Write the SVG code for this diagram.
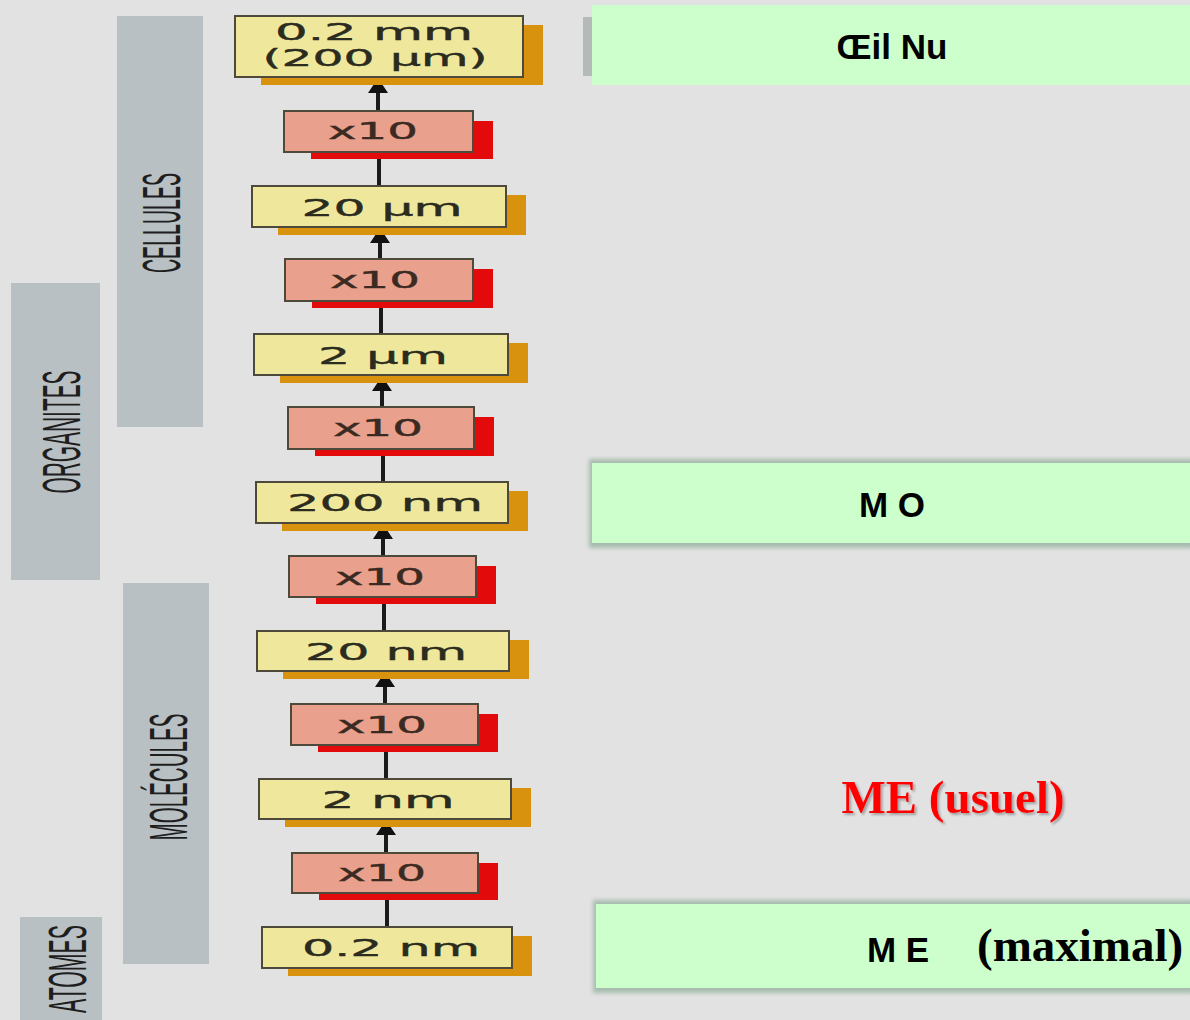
<svg xmlns="http://www.w3.org/2000/svg" width="1190" height="1020" viewBox="0 0 1190 1020">
<style>
.band{fill:#b9c0c3}
.bandtxt{font-family:"Liberation Sans",Arial,sans-serif;font-size:54px;fill:#1e1e1e;text-anchor:middle}
.ybox{fill:#efe89c;stroke:#4d4a3c;stroke-width:2}
.ysh{fill:#d8920e}
.rbox{fill:#e9a08c;stroke:#4d4a3c;stroke-width:2}
.rsh{fill:#e20a0a}
.num{font-family:"DejaVu Sans","Liberation Sans",sans-serif;font-size:23px;fill:#2b2b1e;stroke:#2b2b1e;stroke-width:0.4;text-anchor:middle}
.mul{font-family:"DejaVu Sans","Liberation Sans",sans-serif;font-size:23px;fill:#3a2a22;stroke:#3a2a22;stroke-width:0.4;text-anchor:middle}
.conn{stroke:#1a1a1a;stroke-width:4;fill:none}
.green{fill:#ccffcc}
.gsh{fill:#a6bcae}
.lab{font-family:"Liberation Sans",Arial,sans-serif;font-weight:bold;font-size:35px;fill:#000;text-anchor:middle}
.serif{font-family:"Liberation Serif","Times New Roman",serif;font-weight:bold;font-size:47px}
</style>
<defs>
<marker id="ah" markerUnits="userSpaceOnUse" viewBox="0 0 15 20" markerWidth="15" markerHeight="20" refX="14" refY="10" orient="auto" overflow="visible">
<path d="M0,0 L15,10 L0,20 z" fill="#111"/>
</marker>
<filter id="blur" x="-5%" y="-20%" width="110%" height="140%"><feGaussianBlur stdDeviation="2"/></filter>
<filter id="ts" x="-5%" y="-20%" width="110%" height="140%"><feDropShadow dx="2" dy="2" stdDeviation="1.2" flood-color="#777" flood-opacity="0.6"/></filter>
</defs>
<rect x="0" y="0" width="1190" height="1020" fill="#e2e2e2"/>

<g id="band-cellules"><rect class="band" x="117" y="16" width="86" height="411"/><text class="bandtxt" x="180" y="223" transform="rotate(-90 180 223)" textLength="100" lengthAdjust="spacingAndGlyphs">CELLULES</text></g>
<g id="band-organites"><rect class="band" x="11" y="283" width="89" height="297"/><text class="bandtxt" x="80" y="432" transform="rotate(-90 80 432)" textLength="123" lengthAdjust="spacingAndGlyphs">ORGANITES</text></g>
<g id="band-molecules"><rect class="band" x="123" y="583" width="86" height="381"/><text class="bandtxt" x="187" y="777" transform="rotate(-90 187 777)" textLength="127" lengthAdjust="spacingAndGlyphs">MOLÉCULES</text></g>
<g id="band-atomes"><rect class="band" x="20" y="917" width="82" height="103"/><text class="bandtxt" x="86" y="969" transform="rotate(-90 86 969)" textLength="88" lengthAdjust="spacingAndGlyphs">ATOMES</text></g>

<g id="connectors">
<line class="conn" x1="378" y1="111" x2="378" y2="79" marker-end="url(#ah)"/>
<line class="conn" x1="379" y1="186" x2="379" y2="152"/>
<line class="conn" x1="380" y1="259" x2="380" y2="229" marker-end="url(#ah)"/>
<line class="conn" x1="381" y1="334" x2="381" y2="301"/>
<line class="conn" x1="382" y1="407" x2="382" y2="377" marker-end="url(#ah)"/>
<line class="conn" x1="383" y1="482" x2="383" y2="449"/>
<line class="conn" x1="383" y1="556" x2="383" y2="525" marker-end="url(#ah)"/>
<line class="conn" x1="384" y1="631" x2="384" y2="597"/>
<line class="conn" x1="385" y1="704" x2="385" y2="673" marker-end="url(#ah)"/>
<line class="conn" x1="386" y1="779" x2="386" y2="745"/>
<line class="conn" x1="386" y1="853" x2="386" y2="821" marker-end="url(#ah)"/>
<line class="conn" x1="387" y1="927" x2="387" y2="893"/>
</g>

<g id="y1"><rect class="ysh" x="261" y="25" width="282" height="60"/><rect class="ybox" x="235" y="16" width="288" height="61"/><text class="num" x="374" y="40" textLength="198" lengthAdjust="spacingAndGlyphs">0.2 mm</text><text class="num" x="375" y="66" textLength="225" lengthAdjust="spacingAndGlyphs">(200 µm)</text></g>
<g id="r1"><rect class="rsh" x="311" y="121" width="182" height="38"/><rect class="rbox" x="284" y="111" width="189" height="41"/><text class="mul" x="373" y="139" textLength="90" lengthAdjust="spacingAndGlyphs">x10</text></g>
<g id="y2"><rect class="ysh" x="278" y="195" width="248" height="40"/><rect class="ybox" x="252" y="186" width="254" height="41"/><text class="num" x="382" y="216" textLength="161" lengthAdjust="spacingAndGlyphs">20 µm</text></g>
<g id="r2"><rect class="rsh" x="312" y="269" width="181" height="39"/><rect class="rbox" x="285" y="259" width="188" height="42"/><text class="mul" x="375" y="288" textLength="90" lengthAdjust="spacingAndGlyphs">x10</text></g>
<g id="y3"><rect class="ysh" x="280" y="343" width="248" height="40"/><rect class="ybox" x="254" y="334" width="254" height="41"/><text class="num" x="383" y="364" textLength="130" lengthAdjust="spacingAndGlyphs">2 µm</text></g>
<g id="r3"><rect class="rsh" x="315" y="417" width="179" height="39"/><rect class="rbox" x="288" y="407" width="186" height="42"/><text class="mul" x="378" y="436" textLength="90" lengthAdjust="spacingAndGlyphs">x10</text></g>
<g id="y4"><rect class="ysh" x="282" y="491" width="246" height="40"/><rect class="ybox" x="256" y="482" width="252" height="41"/><text class="num" x="385" y="511" textLength="196" lengthAdjust="spacingAndGlyphs">200 nm</text></g>
<g id="r4"><rect class="rsh" x="316" y="566" width="180" height="38"/><rect class="rbox" x="289" y="556" width="187" height="41"/><text class="mul" x="380" y="585" textLength="90" lengthAdjust="spacingAndGlyphs">x10</text></g>
<g id="y5"><rect class="ysh" x="283" y="640" width="246" height="39"/><rect class="ybox" x="257" y="631" width="252" height="40"/><text class="num" x="386" y="660" textLength="162" lengthAdjust="spacingAndGlyphs">20 nm</text></g>
<g id="r5"><rect class="rsh" x="318" y="714" width="180" height="38"/><rect class="rbox" x="291" y="704" width="187" height="41"/><text class="mul" x="382" y="733" textLength="90" lengthAdjust="spacingAndGlyphs">x10</text></g>
<g id="y6"><rect class="ysh" x="285" y="788" width="246" height="39"/><rect class="ybox" x="259" y="779" width="252" height="40"/><text class="num" x="388" y="808" textLength="133" lengthAdjust="spacingAndGlyphs">2 nm</text></g>
<g id="r6"><rect class="rsh" x="319" y="863" width="179" height="37"/><rect class="rbox" x="292" y="853" width="186" height="40"/><text class="mul" x="382" y="881" textLength="88" lengthAdjust="spacingAndGlyphs">x10</text></g>
<g id="y7"><rect class="ysh" x="288" y="936" width="244" height="40"/><rect class="ybox" x="262" y="927" width="250" height="41"/><text class="num" x="391" y="956" textLength="178" lengthAdjust="spacingAndGlyphs">0.2 nm</text></g>

<g id="oeil-nu"><rect x="583" y="17" width="10" height="59" fill="#b4bab8"/><rect class="green" x="592" y="5" width="598" height="80"/><text class="lab" x="892" y="59">Œil Nu</text></g>
<g id="mo"><rect class="gsh" x="589" y="459" width="605" height="89" filter="url(#blur)"/><rect class="green" x="592" y="463" width="598" height="80"/><text class="lab" x="892" y="517">M O</text></g>
<g id="me-usuel"><text class="serif" x="953" y="813" fill="#ff0000" text-anchor="middle" filter="url(#ts)">ME (usuel)</text></g>
<g id="me-max"><rect class="gsh" x="593" y="900" width="601" height="93" filter="url(#blur)"/><rect class="green" x="596" y="904" width="594" height="84"/><text class="lab" x="898" y="962">M E</text><text class="serif" x="977" y="961" fill="#000">(maximal)</text></g>
</svg>
